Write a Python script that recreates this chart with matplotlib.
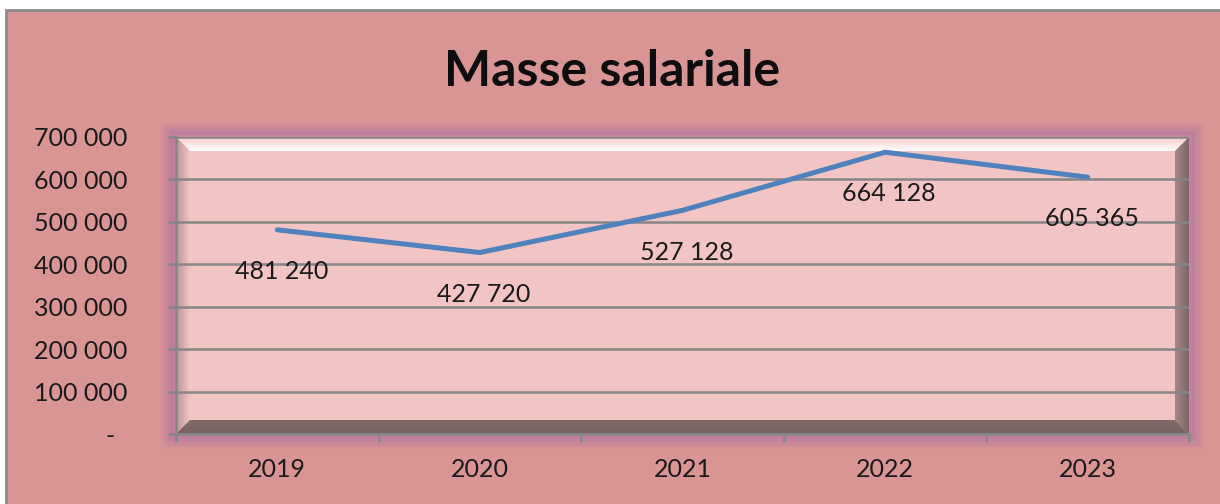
import matplotlib
matplotlib.use("Agg")
import matplotlib.pyplot as plt
import numpy as np
from matplotlib.patches import Rectangle, Polygon
from matplotlib.ticker import FuncFormatter

years = ["2019", "2020", "2021", "2022", "2023"]
values = [481240, 427720, 527128, 664128, 605365]
yticks = [0, 100000, 200000, 300000, 400000, 500000, 600000, 700000]
title = "Masse salariale"

def fmt(v):
    if v == 0:
        return "-  "
    return f"{int(v):,}".replace(",", " ")

plt.rcParams['font.family'] = ['Lato', 'DejaVu Sans']

W, H = 1220, 504
fig = plt.figure(figsize=(W / 100, H / 100), dpi=100)
fig.patch.set_facecolor("white")

# outer chart area
fig.patches.append(Rectangle((6 / W, -0.05), 1.2, 0.05 + (H - 10) / H,
                             transform=fig.transFigure, facecolor="#D99594",
                             edgecolor="#8C8C8C", linewidth=2, zorder=-2))

L, R, T, B = 176, 1189, 137, 434
ax = fig.add_axes([L / W, 1 - B / H, (R - L) / W, (B - T) / H])
ax.set_zorder(5)
ax.set_facecolor("#F2C4C4")

# purple glow around plot area
for i, a in enumerate(np.linspace(0.3, 0.04, 8)):
    d = (i + 1) * 1.6
    fig.patches.append(Rectangle(((L - d) / W, 1 - (B + d) / H), (R - L + 2 * d) / W,
                                 (B - T + 2 * d) / H, transform=fig.transFigure,
                                 facecolor="none", edgecolor="#A86FA6", linewidth=3.2,
                                 alpha=a, zorder=-1))

# bevel (axes coords)
bx = 14 / (R - L)
by = 14 / (B - T)

def grad_poly(pts, c_outer, c_inner, direction):
    poly = Polygon(pts, closed=True, transform=ax.transAxes, facecolor="none",
                   edgecolor="none")
    ax.add_patch(poly)
    n = 64
    t = np.linspace(0, 1, n)
    c1 = np.array(matplotlib.colors.to_rgb(c_outer))
    c2 = np.array(matplotlib.colors.to_rgb(c_inner))
    cols = c1[None, :] * (1 - t[:, None]) + c2[None, :] * t[:, None]
    if direction == "top":      # outer at top
        img = cols[:, None, :]
        ext = (0, 1, 1 - by, 1)
    elif direction == "bottom":
        img = cols[::-1][:, None, :]
        ext = (0, 1, 0, by)
    elif direction == "left":
        img = cols[None, :, :]
        ext = (0, bx, 0, 1)
    else:
        img = cols[::-1][None, :, :]
        ext = (1 - bx, 1, 0, 1)
    im = ax.imshow(img, extent=ext, transform=ax.transAxes, aspect="auto",
                   interpolation="bilinear", zorder=0.6, origin="upper")
    im.set_clip_path(poly)

grad_poly([(0, 1), (1, 1), (1 - bx, 1 - by), (bx, 1 - by)], "#F6CACA", "#FFFFFF", "top")
grad_poly([(0, 0), (bx, by), (bx, 1 - by), (0, 1)], "#B89494", "#F2C4C4", "left")
grad_poly([(1, 0), (1, 1), (1 - bx, 1 - by), (1 - bx, by)], "#7A6666", "#A88888", "right")
grad_poly([(0, 0), (1, 0), (1 - bx, by), (bx, by)], "#786060", "#806A6A", "bottom")

x = np.arange(len(years))
ax.set_xlim(-0.5, len(years) - 0.5)
ax.set_ylim(0, 700000)

ax.set_yticks(yticks)
ax.yaxis.set_major_formatter(FuncFormatter(lambda v, p: fmt(v)))
ax.grid(axis="y", color="#868686", linewidth=1.8, zorder=1)
ax.set_axisbelow(False)

ax.set_xticks(np.arange(-0.5, len(years) + 0.5, 1.0))
ax.set_xticklabels([])
ax.set_xticks(x, minor=True)
ax.set_xticklabels(years, minor=True, fontsize=18, color="#1a1a1a")
ax.tick_params(axis="x", which="minor", length=0, pad=17)
ax.tick_params(axis="x", which="major", length=6, width=1.8, color="#868686")
ax.tick_params(axis="y", length=6, width=1.8, color="#868686", labelsize=18,
               labelcolor="#1a1a1a", pad=29)

for s in ["top", "right"]:
    ax.spines[s].set_visible(False)
ax.spines["left"].set_color("#868686")
ax.spines["left"].set_linewidth(1.8)
ax.spines["bottom"].set_color("#868686")
ax.spines["bottom"].set_linewidth(1.8)

ax.plot(x, values, color="#4F81BD", linewidth=3.6, solid_capstyle="round", zorder=3)
for xi, v in zip(x, values):
    ax.annotate(fmt(v), (xi, v), xytext=(3, -30), textcoords="offset points",
                ha="center", va="center", fontsize=18, color="#1a1a1a", zorder=4)

fig.text(0.502, 1 - 72 / H, title, ha="center", va="center", fontsize=36,
         fontweight="bold", color="#0d0d0d")

fig.savefig("out.png", dpi=100)
